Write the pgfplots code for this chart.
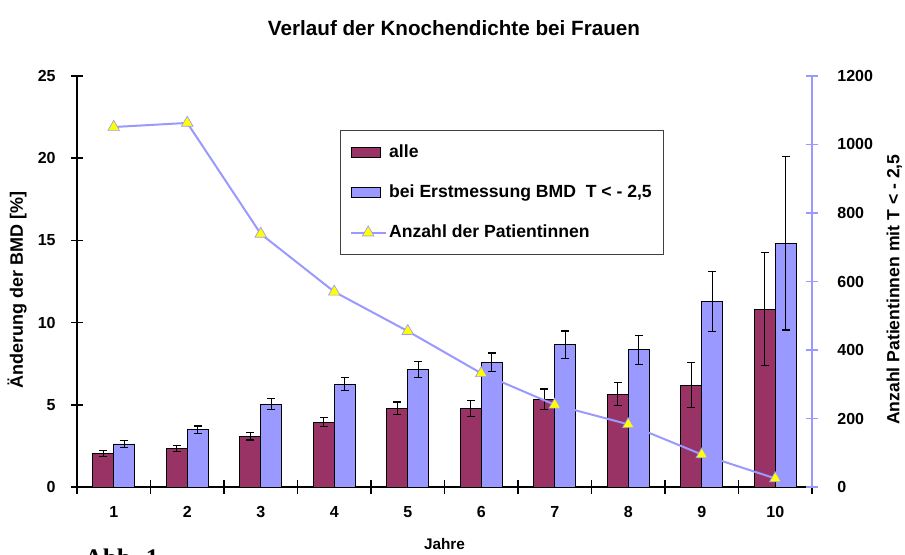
\documentclass[border=0pt]{standalone}
\usepackage{fontspec}
\setmainfont{Liberation Sans}
\newfontfamily\abbfont{Liberation Serif}
\usepackage{pgfplots}
\usepackage{pgfplotstable}
\pgfplotsset{compat=1.18}
\definecolor{bord}{HTML}{993366}
\definecolor{lav}{HTML}{9999FF}
\definecolor{yel}{HTML}{FFFF00}

\pgfplotstableread{
cat alle alleerr erst ersterr n
1  2.03 0.17  2.62 0.21 1051
2  2.33 0.18  3.49 0.22 1063
3  3.10 0.24  5.03 0.33 739
4  3.94 0.28  6.25 0.40 570
5  4.79 0.38  7.14 0.49 455
6  4.79 0.49  7.58 0.57 332
7  5.35 0.61  8.66 0.83 240
8  5.64 0.69  8.35 0.89 183
9  6.19 1.36 11.27 1.83 95
10 10.81 3.43 14.84 5.29 25
}\datatable

\begin{document}
\begin{tikzpicture}
\path[use as bounding box] (0,0) rectangle (678.75pt,416.25pt);
\node[font=\bfseries\fontsize{15.5}{17}\selectfont] at (340.5pt,395.25pt) {Verlauf der Knochendichte bei Frauen};
\node[anchor=base west, font=\abbfont\bfseries\fontsize{19}{21}\selectfont] at (60pt,-9pt) {Abb. 1};
\begin{axis}[
  at={(57.75pt,51pt)}, anchor=south west, scale only axis,
  width=551.25pt, height=308.25pt,
  xmin=0.5, xmax=10.5, ymin=0, ymax=25,
  axis x line*=bottom, axis y line*=left,
  axis line style={black, line width=1.2pt},
  ybar=0pt, bar width=15.75pt,
  xtick={1,...,10}, minor xtick={0.5,1.5,...,10.5},
  major x tick style={draw=none},
  minor x tick style={black, line width=1.2pt},
  minor tick length=10pt,
  ytick={0,5,...,25},
  y tick style={black, line width=1.2pt},
  major tick length=9pt,
  tick align=center,
  /pgf/number format/assume math mode=true,
  /pgf/number format/set thousands separator={},
  tick label style={font=\bfseries\fontsize{12}{14}\selectfont},
  xticklabel style={anchor=center, yshift=-14.5pt},
  yticklabel style={anchor=east, xshift=-8pt},
  xlabel={Jahre},
  xlabel style={at={(axis description cs:0.5,-0.1387)}, anchor=center, font=\bfseries\fontsize{11.5}{13}\selectfont},
  ylabel={Änderung der BMD [\%]},
  ylabel style={at={(axis description cs:-0.0816,0.48)}, anchor=center, font=\bfseries\fontsize{13.5}{15}\selectfont},
  legend cell align=left,
  legend style={at={(axis description cs:0.358,0.8686)}, anchor=north west,
    draw=black!75, line width=0.6pt, fill=white,
    font=\bfseries\fontsize{13.2}{15}\selectfont,
    inner xsep=7pt, inner ysep=9pt, row sep=15pt},
]
\addplot[fill=bord, draw=black, line width=0.6pt,
  legend image code/.code={\draw[fill=bord,draw=black,line width=0.5pt] (0pt,-3.75pt) rectangle (22pt,3.75pt);},
  error bars/.cd, y dir=both, y explicit,
  error bar style={black, line width=0.8pt},
  error mark options={rotate=90, black, line width=0.8pt, mark size=3pt}]
  table[x=cat, y=alle, y error=alleerr]{\datatable};
\addlegendentry{alle}
\addplot[fill=lav, draw=black, line width=0.6pt,
  legend image code/.code={\draw[fill=lav,draw=black,line width=0.5pt] (0pt,-3.75pt) rectangle (22pt,3.75pt);},
  error bars/.cd, y dir=both, y explicit,
  error bar style={black, line width=0.8pt},
  error mark options={rotate=90, black, line width=0.8pt, mark size=3pt}]
  table[x=cat, y=erst, y error=ersterr]{\datatable};
\addlegendentry{bei Erstmessung BMD\ \ T < - 2,5}
\addlegendimage{color=lav, line width=1.5pt, mark=triangle*, mark size=5pt,
  mark options={fill=yel, draw=lav, line width=0.5pt},
  legend image code/.code={\draw[color=lav,line width=1.5pt] (0pt,0pt) -- (26pt,0pt);
    \draw[fill=yel,draw=lav,line width=0.5pt] (13pt,5pt) -- (8.67pt,-2.5pt) -- (17.33pt,-2.5pt) -- cycle;}}
\addlegendentry{Anzahl der Patientinnen}
\end{axis}
\begin{axis}[
  at={(57.75pt,51pt)}, anchor=south west, scale only axis,
  width=551.25pt, height=308.25pt,
  xmin=0.5, xmax=10.5, ymin=0, ymax=1200,
  axis x line=none, axis y line*=right,
  y axis line style={lav, line width=1.2pt},
  ytick={0,200,...,1200},
  y tick style={lav, line width=1.2pt},
  major tick length=9pt, tick align=center,
  /pgf/number format/assume math mode=true,
  /pgf/number format/set thousands separator={},
  tick label style={font=\bfseries\fontsize{12}{14}\selectfont},
  yticklabel style={anchor=west, xshift=11pt},
  ylabel={Anzahl Patientinnen mit T < - 2,5},
  ylabel style={at={(axis description cs:1.112,0.48)}, anchor=center, rotate=0, font=\bfseries\fontsize{13.2}{15}\selectfont},
]
\addplot[color=lav, line width=1.5pt, mark=triangle*, mark size=5pt,
  mark options={fill=yel, draw=lav, line width=0.5pt}]
  table[x=cat, y=n]{\datatable};
\end{axis}
\end{tikzpicture}
\end{document}
